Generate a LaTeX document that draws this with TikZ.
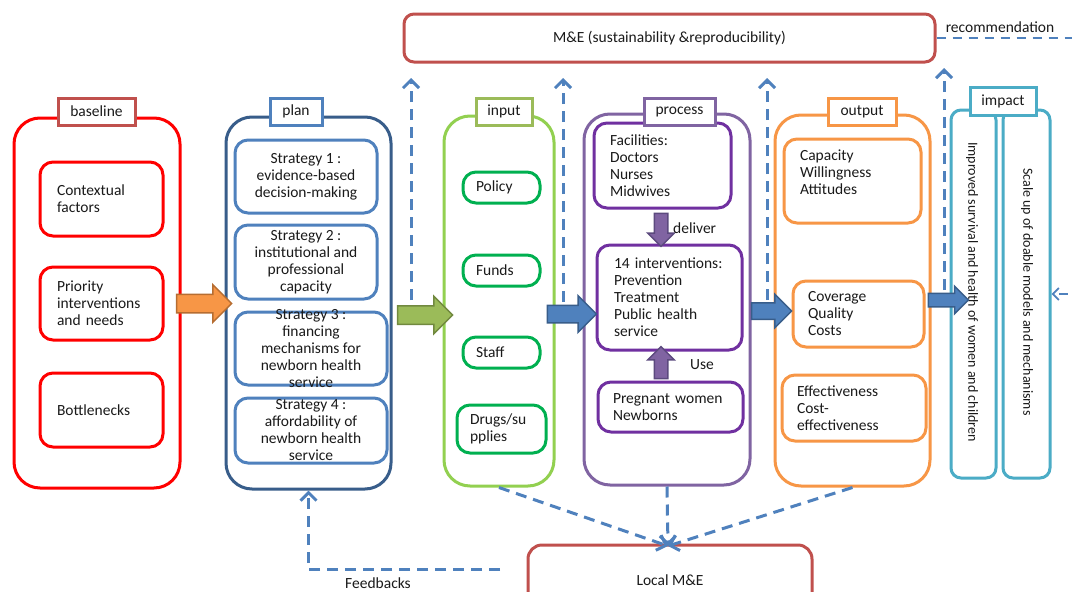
\documentclass[tikz,border=0pt]{standalone}
\usepackage{fontspec}
\setmainfont{Carlito}
\usetikzlibrary{shapes.arrows,arrows.meta}

\definecolor{cRed}{HTML}{FF0000}
\definecolor{cDRed}{HTML}{C0504D}
\definecolor{cNavy}{HTML}{385D8A}
\definecolor{cBlue}{HTML}{4F81BD}
\definecolor{cLGreen}{HTML}{92D050}
\definecolor{cOGreen}{HTML}{9BBB59}
\definecolor{cDGreen}{HTML}{71893F}
\definecolor{cGreen}{HTML}{00B050}
\definecolor{cLPurple}{HTML}{8064A2}
\definecolor{cDPurple}{HTML}{5C4A7E}
\definecolor{cPurple}{HTML}{7030A0}
\definecolor{cOrange}{HTML}{F79646}
\definecolor{cDOrange}{HTML}{B66D31}
\definecolor{cTeal}{HTML}{4BACC6}
\definecolor{cText}{HTML}{1A1A1A}

\begin{document}
\begin{tikzpicture}[x=1pt,y=-1pt,
  every node/.style={font=\fontsize{15.5}{17}\selectfont, text=cText},
  dims/.style 2 args={minimum width=#1, minimum height=#2},
  group/.style={draw=#1, line width=3, rounded corners=26, inner sep=0},
  item/.style={draw=#1, line width=3, rounded corners=13, inner sep=0},
  tag/.style={draw=#1, line width=3, fill=white, inner sep=0},
  ltext/.style 2 args={align=left, text width=#1, inner xsep=#2},
  blockarrow/.style 2 args={single arrow, fill=#1, draw=#2, line width=1.5,
    inner xsep=0, single arrow head indent=0, single arrow tip angle=90},
  arrowdims/.style n args={3}{minimum height=#1, inner ysep=#2, single arrow head extend=#3},
  varrowdims/.style n args={3}{minimum height=#1, inner xsep=#2, inner ysep=0, single arrow head extend=#3},
  fb/.style={draw=cBlue, line width=3, dash pattern=on 11pt off 7pt,
    -{Straight Barb[length=8pt,width=16pt,line width=3pt]}},
  fbthin/.style={draw=cBlue, line width=2, dash pattern=on 9pt off 7pt,
    -{Straight Barb[length=6pt,width=12pt,line width=1.8pt]}}
]
\fill[white] (0,0) rectangle (1072,592);
\useasboundingbox (0,0) rectangle (1072,592);
\clip (0,0) rectangle (1072,592);

% ---------- baseline ----------
\node[group=cRed, dims={166}{370}] (base) at (97,303) {};
\node[item=cRed, dims={123}{74}, ltext={89}{17}] (ctx) at (101.5,199) {Contextual\\factors};
\node[item=cRed, dims={123}{73}, ltext={89}{17}] (prio) at (101.5,303.5) {Priority\\interventions\\and needs};
\node[item=cRed, dims={123}{74}, ltext={89}{17}] (bott) at (101.5,410) {Bottlenecks};
\node[tag=cDRed, dims={77}{27}] (baset) at (96.5,111.5) {baseline};

% ---------- plan ----------
\node[group=cNavy, dims={165}{372}] (plan) at (308.5,303) {};
\node[item=cBlue, dims={142}{73}, align=center] (s1) at (306,176.5) {Strategy 1 :\\evidence-based\\decision-making};
\node[item=cBlue, dims={142}{74}, align=center] (s2) at (306,262) {Strategy 2 :\\institutional and\\professional\\capacity};
\node[item=cBlue, dims={152}{73}] (s3) at (311,348.5) {};
\node[align=center, inner sep=0] (s3t) at (s3.center) {Strategy 3 :\\financing\\mechanisms for\\newborn health\\service};
\node[item=cBlue, dims={152}{65}] (s4) at (311,430.5) {};
\node[align=center, inner sep=0] (s4t) at (s4.center) {Strategy 4 :\\affordability of\\newborn health\\service};
\node[tag=cBlue, dims={52}{27}] (plant) at (296,111.5) {plan};

% ---------- input ----------
\node[group=cLGreen, dims={110}{370}] (inp) at (499,301) {};
\node[item=cGreen, dims={77}{31}, ltext={51}{13}] (pol) at (501.5,187.5) {Policy};
\node[item=cGreen, dims={77}{31}, ltext={51}{13}] (fund) at (501.5,270.5) {Funds};
\node[item=cGreen, dims={77}{31}, ltext={51}{13}] (staff) at (501.5,352.5) {Staff};
\node[item=cGreen, dims={89}{48}, ltext={63}{13}] (drug) at (501.5,429) {Drugs/su\\pplies};
\node[tag=cOGreen, dims={56}{27}] (inpt) at (504,111.5) {input};

% ---------- process ----------
\node[group=cLPurple, dims={166}{371}] (proc) at (667,299.5) {};
\node[item=cPurple, dims={137}{85}, ltext={105}{16}] (fac) at (662.5,165.5) {Facilities:\\Doctors\\Nurses\\Midwives};
\node[item=cPurple, dims={145}{105}, ltext={111}{17}] (intv) at (669.5,297.5) {14 interventions:\\Prevention\\Treatment\\Public health\\service};
\node[item=cPurple, dims={145}{50}, ltext={115}{15}] (preg) at (670.5,407) {Pregnant women\\Newborns};
\node[tag=cLPurple, dims={71}{27}] (proct) at (679.5,111.5) {process};
\node[blockarrow={cLPurple}{cDPurple}, varrowdims={33}{6}{6.5}, shape border rotate=270] (dlv) at (661,226.5) {};
\node[blockarrow={cLPurple}{cDPurple}, varrowdims={32}{6}{6.5}, shape border rotate=90] (usea) at (661,366) {};
\node[anchor=west, inner sep=0] (dlvt) at (673,228) {deliver};
\node[anchor=west, inner sep=0] (uset) at (690,365) {Use};

% ---------- output ----------
\node[group=cOrange, dims={155}{371}] (outp) at (852.5,300.5) {};
\node[item=cOrange, dims={137}{84}] (cap) at (852.5,181) {};
\node[align=left, text width=105, inner sep=0] (capt) at (852.5,172) {Capacity\\Willingness\\Attitudes};
\node[item=cOrange, dims={131}{66}, ltext={101}{15}] (cov) at (858.5,314) {Coverage\\Quality\\Costs};
\node[item=cOrange, dims={144}{66}, ltext={114}{15}] (eff) at (854,408) {Effectiveness\\Cost-\\effectiveness};
\node[tag=cOrange, dims={68}{27}] (outt) at (862,111.5) {output};

% ---------- impact ----------
\node[item=cTeal, rounded corners=10, dims={45}{368}] (imp1) at (973.5,294) {};
\node[item=cTeal, rounded corners=10, dims={47}{368}] (imp2) at (1026.5,294) {};
\node[rotate=-90, font=\fontsize{14}{16}\selectfont, inner sep=0] (imp1t) at (972,292) {Improved survival and health of women and children};
\node[rotate=-90, font=\fontsize{14}{16}\selectfont, inner sep=0] (imp2t) at (1027,292) {Scale up of doable models and mechanisms};
\node[tag=cTeal, dims={66}{28}] (impt) at (1003,101) {impact};

% ---------- monitoring and evaluation ----------
\node[item=cDRed, rounded corners=10, dims={531}{48}] (me) at (669.5,38) {M\&E (sustainability \&reproducibility)};
\node[item=cDRed, rounded corners=14, dims={284}{70}] (lme) at (670,580) {Local M\&E};

% ---------- block arrows between stages ----------
\node[blockarrow={cOrange}{cDOrange}, arrowdims={55}{8.5}{9.5}] (a1) at (199.5,303.5) {};
\node[blockarrow={cOGreen}{cDGreen}, arrowdims={55}{8.5}{9.5}] (a2) at (420.5,315) {};
\node[blockarrow={cBlue}{cNavy}, arrowdims={49}{8}{9.5}] (a3) at (567.5,314) {};
\node[blockarrow={cBlue}{cNavy}, arrowdims={40}{7.5}{8.5}] (a4) at (767.5,311) {};
\node[blockarrow={cBlue}{cNavy}, arrowdims={40}{6}{7}] (a5) at (945,300) {};

% ---------- dashed reporting arrows ----------
\coordinate (u1s) at (411,300);  \coordinate (u1e) at (411,78);
\coordinate (u2s) at (563,320);  \coordinate (u2e) at (563,78);
\coordinate (u3s) at (767,318);  \coordinate (u3e) at (767,78);
\coordinate (u4s) at (944,290);  \coordinate (u4e) at (944,68);
\draw[fb] (u1s) -- (u1e);
\draw[fb] (u2s) -- (u2e);
\draw[fb] (u3s) -- (u3e);
\draw[fb] (u4s) -- (u4e);

\coordinate (lmtip) at (668,546);
\draw[fb] (inp.south) -- (lmtip);
\draw[fb] (proc.south) -- (lmtip);
\draw[fb] (outp.south) -- (lmtip);

\coordinate (fbs) at (500,569);
\draw[fb] (fbs) -| (plan.south);
\node[inner sep=0] (fbt) at (378,583) {Feedbacks};

\coordinate (rc) at (1090,38);
\draw[fbthin] (me.east) -- (rc) |- (imp2.east);
\node[inner sep=0] (rect) at (1000,27) {recommendation};
\end{tikzpicture}
\end{document}
